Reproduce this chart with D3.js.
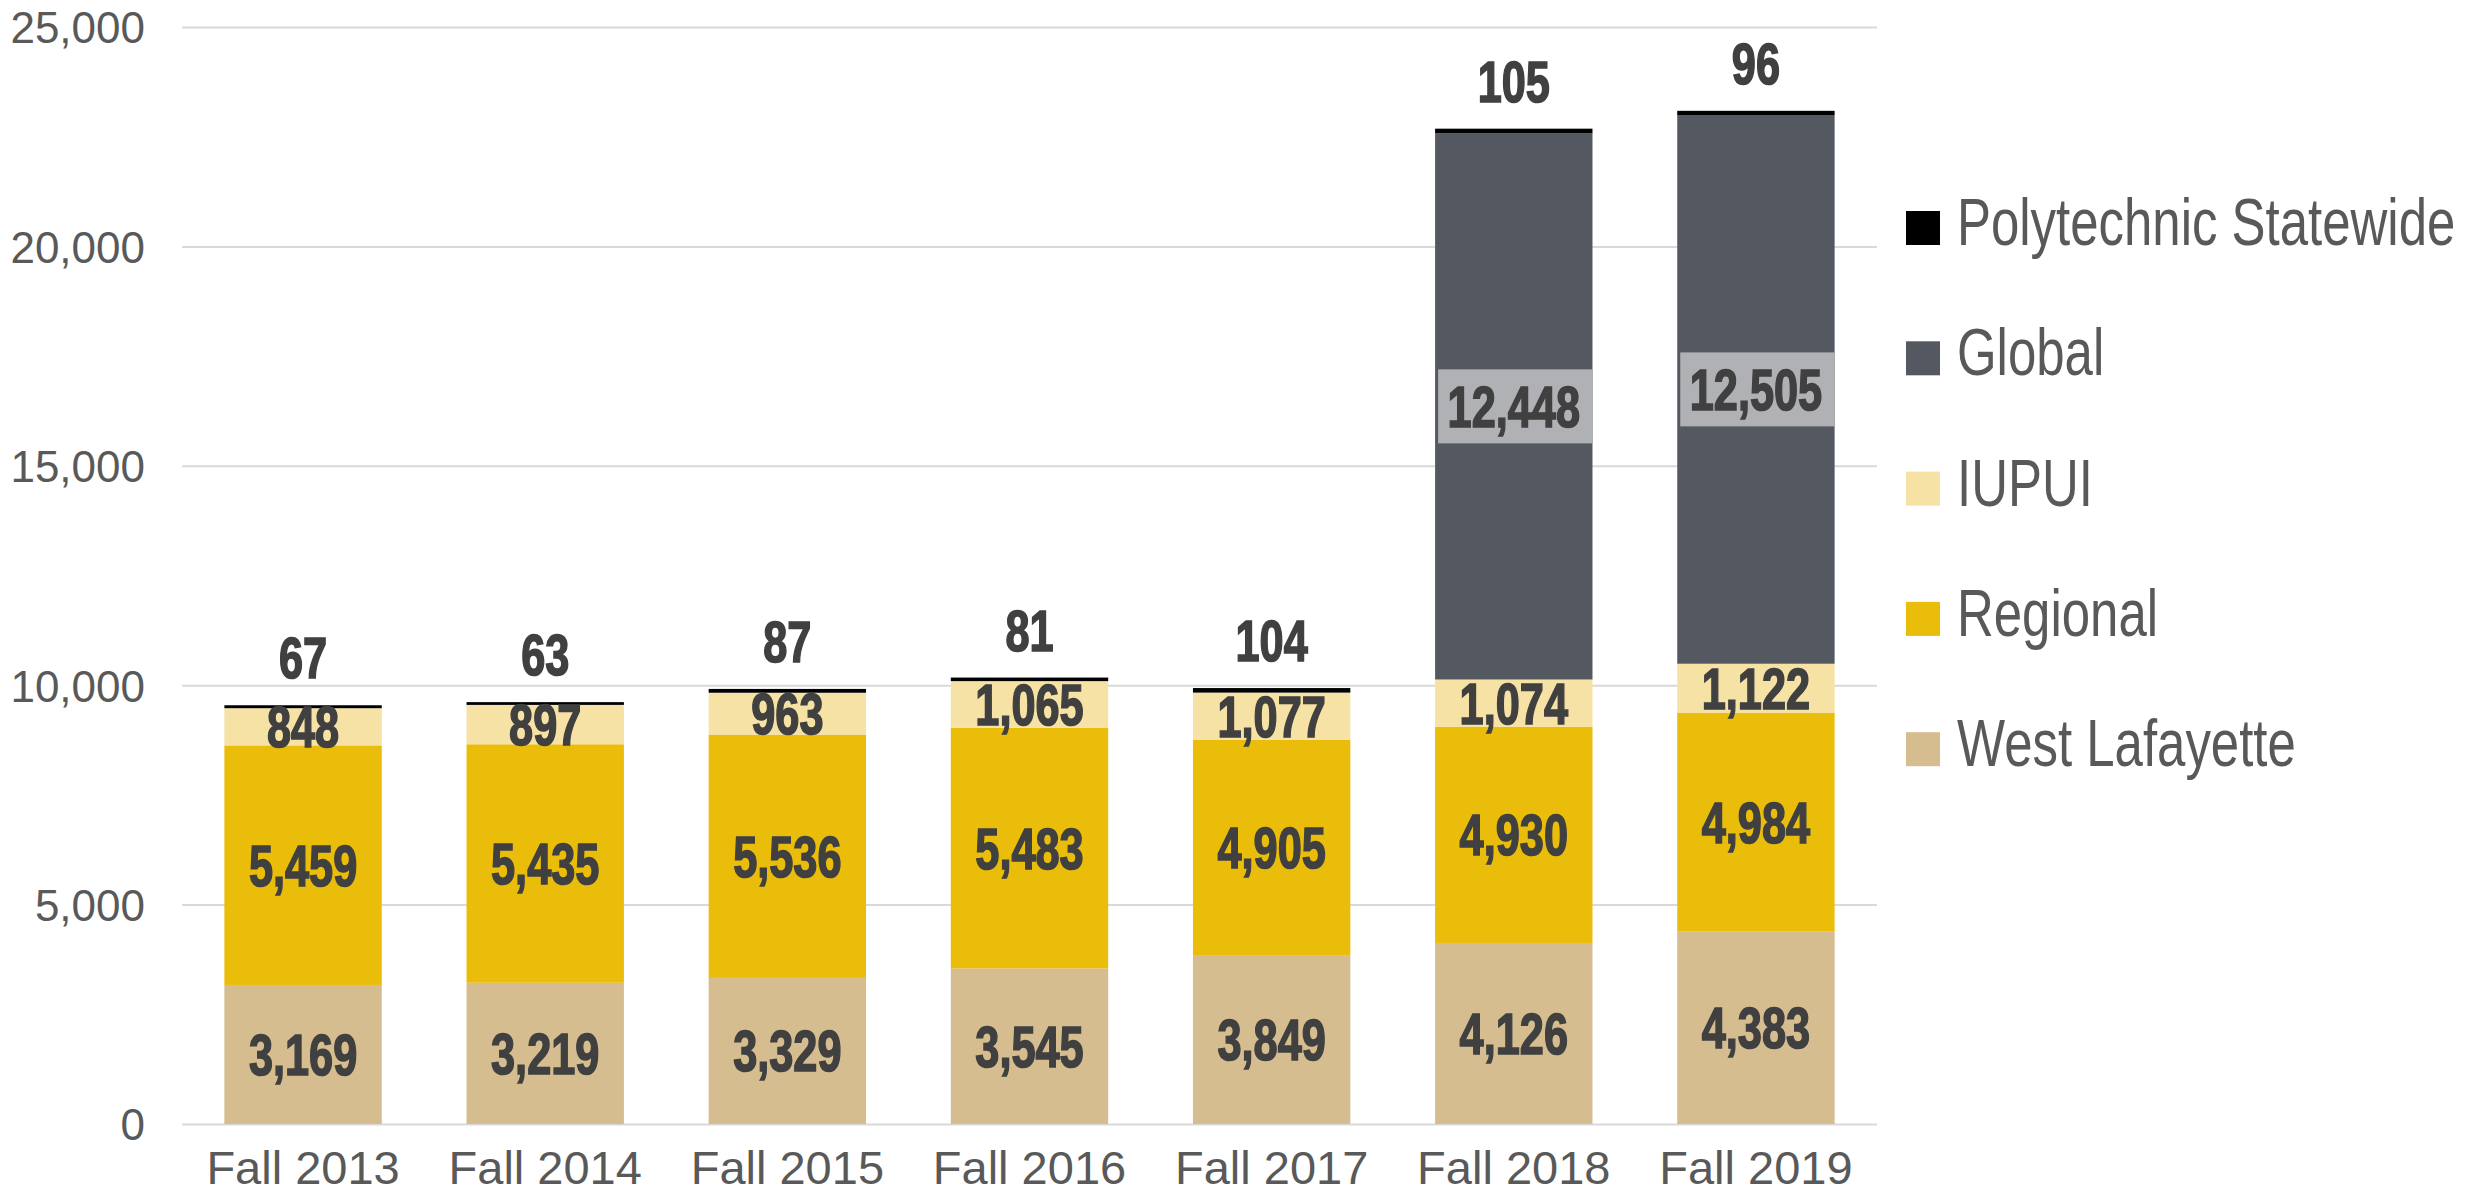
<!DOCTYPE html>
<html>
<head>
<meta charset="utf-8">
<script src="https://cdn.jsdelivr.net/npm/d3@7"></script>
<style>
  html, body { margin: 0; padding: 0; background: #ffffff; }
  #view { width: 2478px; height: 1196px; }
</style>
</head>
<body>
<div id="view"></div>
<script>
var width = 2478, height = 1196;
var svg = null;

// data
var terms = ["Fall 2013", "Fall 2014", "Fall 2015", "Fall 2016", "Fall 2017", "Fall 2018", "Fall 2019"];
var westLafayette = [3169, 3219, 3329, 3545, 3849, 4126, 4383];
var regional      = [5459, 5435, 5536, 5483, 4905, 4930, 4984];
var iupui         = [848, 897, 963, 1065, 1077, 1074, 1122];
var global        = [0, 0, 0, 0, 0, 12448, 12505];
var polytechnic   = [67, 63, 87, 81, 104, 105, 96];
var yTicks = [0, 5000, 10000, 15000, 20000, 25000];

var seriesNames  = ["West Lafayette", "Regional", "IUPUI", "Global", "Polytechnic Statewide"];
var seriesKeys   = ["wl", "reg", "iupui", "glob", "poly"];
var seriesColors = ["#d5bd8f", "#ebbd0b", "#f6e2a4", "#545861", "#000000"];

var font = "'Liberation Sans', Arial, sans-serif";
var labelScale = 0.76;   // squeeze to look like a condensed face
var legendScale = 0.772;

// build rows for d3.stack
var rows = terms.map(function(t, i) {
	return { term: t, wl: westLafayette[i], reg: regional[i], iupui: iupui[i], glob: global[i], poly: polytechnic[i] };
});

var plotLeft = 182, plotRight = 1877, plotTop = 27, plotBottom = 1124;

var x = d3.scaleBand().domain(terms).range([plotLeft, plotRight]).paddingInner(0.35).paddingOuter(0.175);
var y = d3.scaleLinear().domain([0, 25000]).range([plotBottom, plotTop]);
var fmt = d3.format(",");

svg = d3.select("#view").append("svg")
	.attr("width", width)
	.attr("height", height);

// gridlines
svg.append("g")
	.attr("transform", "translate(" + plotLeft + ",0)")
	.call(d3.axisLeft(y).tickValues(yTicks).tickSize(-(plotRight - plotLeft)).tickFormat(""))
	.call(function(g) { g.select(".domain").remove(); })
	.selectAll("line")
	.attr("stroke", "#d9d9d9")
	.attr("stroke-width", 2);

// y tick labels
svg.append("g")
	.attr("transform", "translate(145,0)")
	.call(d3.axisLeft(y).tickValues(yTicks).tickSize(0).tickPadding(0).tickFormat(fmt))
	.call(function(g) { g.select(".domain").remove(); })
	.selectAll("text")
	.attr("dy", "0.36em")
	.style("font-family", font)
	.style("font-size", "44px")
	.style("fill", "#595959");

// x labels
svg.append("g")
	.attr("transform", "translate(0," + plotBottom + ")")
	.call(d3.axisBottom(x).tickSize(0).tickPadding(0))
	.call(function(g) { g.select(".domain").remove(); })
	.selectAll("text")
	.attr("y", 60)
	.attr("dy", 0)
	.style("font-family", font)
	.style("font-size", "47px")
	.style("fill", "#595959");

var stack = d3.stack().keys(seriesKeys);
var layers = stack(rows);

var layerG = svg.selectAll(".layer")
	.data(layers).enter()
	.append("g")
	.attr("class", "layer")
	.attr("fill", function(d, i) { return seriesColors[i]; });

layerG.selectAll("rect")
	.data(function(d) { return d; }).enter()
	.append("rect")
	.attr("x", function(d) { return x(d.data.term); })
	.attr("width", x.bandwidth())
	.attr("y", function(d) { return y(d[1]); })
	.attr("height", function(d) { return y(d[0]) - y(d[1]); });

// gray label boxes on the Global segments
svg.selectAll(".globbox")
	.data(layers[3].filter(function(d) { return d[1] - d[0] > 0; })).enter()
	.append("rect")
	.attr("class", "globbox")
	.attr("x", function(d) { return x(d.data.term) + 3; })
	.attr("width", x.bandwidth() - 3)
	.attr("y", function(d) { return y((d[0] + d[1]) / 2) - 37; })
	.attr("height", 74)
	.attr("fill", "#b0b1b4");

function valueLabel(sel) {
	sel.attr("text-anchor", "middle")
		.style("font-family", font)
		.style("font-weight", "bold")
		.style("font-size", "57px")
		.style("fill", "#404040")
		.style("stroke", "#404040")
		.style("stroke-width", "1.6px")
		.text(function(d) { return fmt(d[1] - d[0]); });
}

// segment labels (all but polytechnic)
layers.forEach(function(layer, li) {
	if (seriesKeys[li] == "poly") return;
	svg.selectAll(".lbl" + li)
		.data(layer.filter(function(d) { return d[1] - d[0] > 0; })).enter()
		.append("text")
		.attr("class", "lbl" + li)
		.attr("transform", function(d) {
			return "translate(" + (x(d.data.term) + x.bandwidth() / 2) + "," + y((d[0] + d[1]) / 2) + ") scale(" + labelScale + ",1)";
		})
		.attr("dy", "0.36em")
		.call(valueLabel);
});

// polytechnic labels above the bars
svg.selectAll(".polylbl")
	.data(layers[4]).enter()
	.append("text")
	.attr("class", "polylbl")
	.attr("transform", function(d) {
		return "translate(" + (x(d.data.term) + x.bandwidth() / 2) + "," + (y(d[1]) - 27) + ") scale(" + labelScale + ",1)";
	})
	.call(valueLabel);

// legend, top to bottom reversed from stack order
var legendItems = seriesNames.map(function(n, i) { return { name: n, color: seriesColors[i] }; }).reverse();
var legend = svg.selectAll(".legend")
	.data(legendItems).enter()
	.append("g")
	.attr("class", "legend")
	.attr("transform", function(d, i) { return "translate(1906," + (211 + i * 130.3) + ")"; });

legend.append("rect")
	.attr("width", 34)
	.attr("height", 34)
	.attr("fill", function(d) { return d.color; });

legend.append("text")
	.attr("transform", "translate(51,34) scale(" + legendScale + ",1)")
	.style("font-family", font)
	.style("font-size", "66px")
	.style("fill", "#595959")
	.text(function(d) { return d.name; });
</script>
</body>
</html>
